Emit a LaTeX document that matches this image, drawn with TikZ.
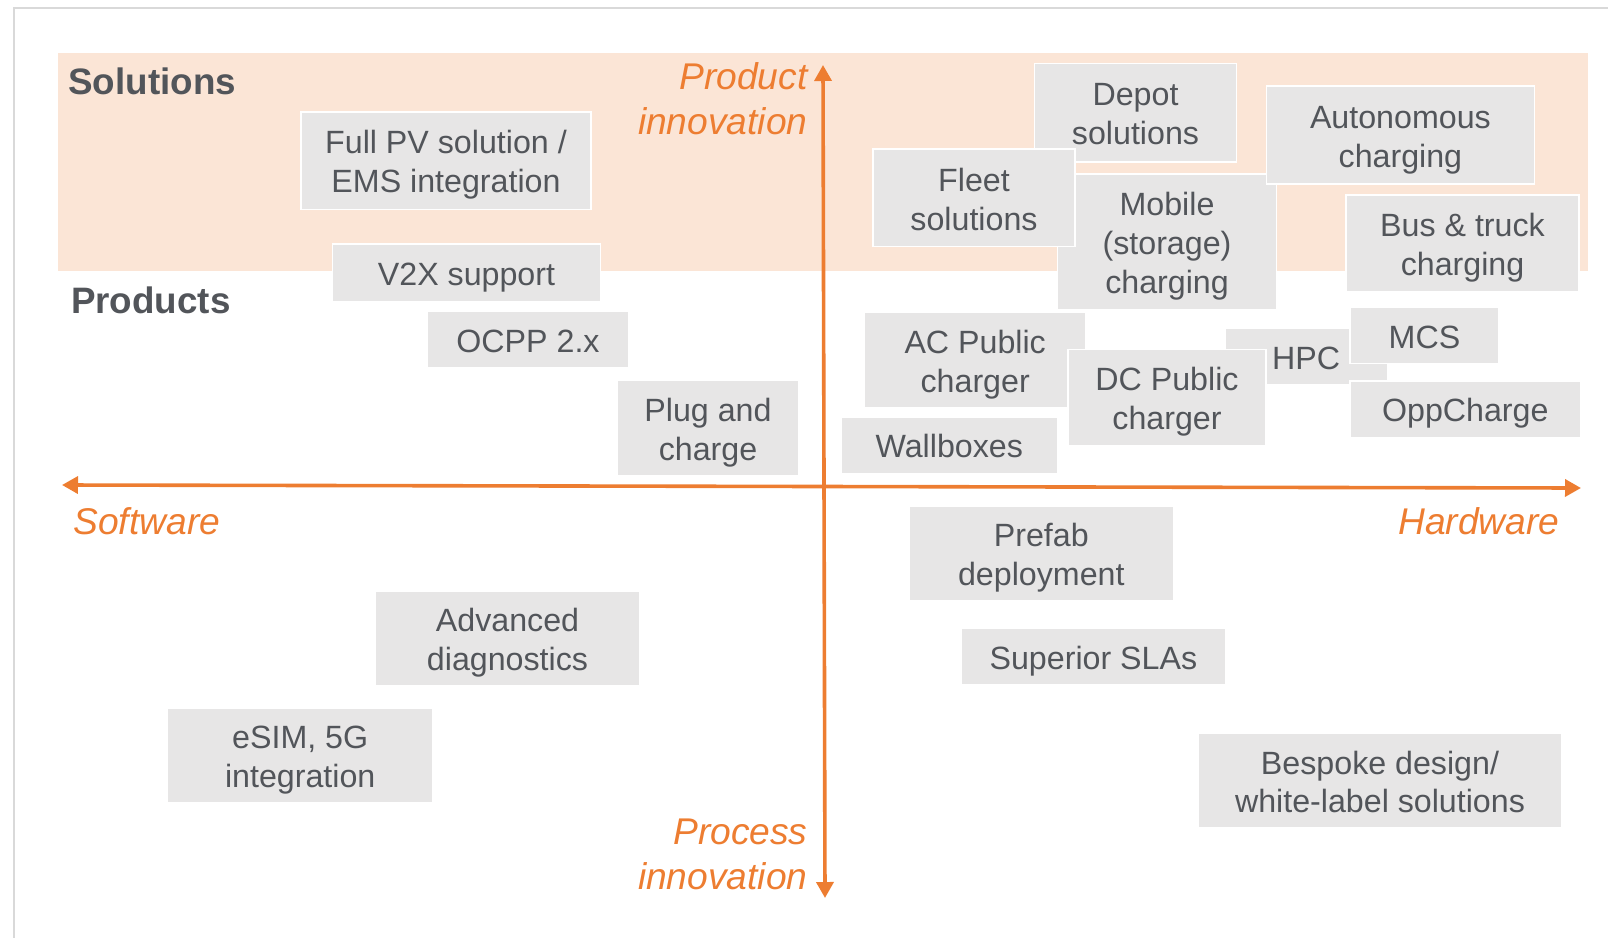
\documentclass[tikz,border=0pt]{standalone}
\usepackage{fontspec}
\setmainfont{Liberation Sans}
\usetikzlibrary{arrows.meta}
\definecolor{evorange}{HTML}{ED7D31}
\definecolor{evpeach}{HTML}{FBE5D6}
\definecolor{evbox}{HTML}{E7E6E6}
\definecolor{evtext}{HTML}{52555A}
\definecolor{evframe}{HTML}{D9D9D9}

\begin{document}
\begin{tikzpicture}[x=0.5pt,y=-0.5pt,>={Triangle[length=8pt,width=8.5pt]},
  tile/.style 2 args={fill=evbox,draw=white,line width=0.8pt,inner sep=0pt,
        align=center,text=evtext,font=\fontsize{16.1}{19.4}\selectfont,
        text height=16.3pt,text depth=3.5pt,
        minimum width=#1*0.5pt,minimum height=#2*0.5pt},
  lines2/.style={text height=35.7pt},
  lines3/.style={text height=55.1pt},
  axislabel/.style={text=evorange,inner sep=0pt,
        font=\fontsize{18.6}{22.5}\selectfont\itshape},
  rowlabel/.style={text=evtext,inner sep=0pt,anchor=west,
        font=\fontsize{18.4}{22}\selectfont\bfseries},
  axisline/.style={evorange,line width=1.8pt}]

  \useasboundingbox (0,0) rectangle (1608,938);

  % ---- frame and solutions band ----
  \draw[evframe,line width=1pt] (14,938) -- (14,7.5) -- (1608,7.5);
  \fill[evpeach] (57.5,52.7) rectangle (1588.4,270.7);

  % ---- row labels ----
  \node[rowlabel] (solutions) at (68,81) {Solutions};
  \node[rowlabel] (products) at (70.6,300) {Products};

  % ---- axes ----
  \coordinate (swend) at (62,485);
  \coordinate (hwend) at (1581,488);
  \coordinate (pitop) at (823,65);
  \coordinate (pibot) at (825,898);
  \draw[axisline,<->] (swend) -- (hwend);
  \draw[axisline,<->] (pibot) -- (pitop);

  % ---- axis labels ----
  \node[axislabel,anchor=north east,align=right] (prodinno) at (808,62)
        {Product\\innovation};
  \node[axislabel,anchor=north east,align=right] (procinno) at (808,818)
        {Process\\innovation};
  \node[axislabel,anchor=west] (software) at (73,521) {Software};
  \node[axislabel,anchor=east] (hardware) at (1560,521) {Hardware};

  % ---- software side, top ----
  \node[tile={290}{97.6},lines2] (fullpv) at (446,160.5)
        {Full PV solution /\\EMS integration};
  \node[tile={268}{57.7}] (v2x) at (466.5,273) {V2X support};
  \node[tile={201.7}{56.7}] (ocpp) at (528,339.3) {OCPP 2.x};
  \node[tile={181.6}{95.3},lines2] (plug) at (708,428.3) {Plug and\\charge};

  % ---- hardware side, top ----
  \node[tile={202}{98.4},lines2] (depot) at (1135.5,112.5) {Depot\\solutions};
  \node[tile={219}{135.3},lines3] (mobile) at (1167,241.7)
        {Mobile\\(storage)\\charging};
  \node[tile={201.7}{97.7},lines2] (fleet) at (974,197.8) {Fleet\\solutions};
  \node[tile={268}{98},lines2] (auton) at (1400.4,135) {Autonomous\\charging};
  \node[tile={233}{96.7},lines2] (bustruck) at (1462.5,243.3)
        {Bus \& truck\\charging};
  \node[tile={162.4}{57}] (hpc) at (1306.2,356.5) {HPC};
  \node[tile={149}{56}] (mcs) at (1424.5,335.3) {MCS};
  \node[tile={230.7}{56.6}] (oppcharge) at (1465.3,409) {OppCharge};
  \node[tile={221.6}{95},lines2] (acpub) at (975.2,359.8) {AC Public\\charger};
  \node[tile={198}{96.4},lines2] (dcpub) at (1167,397.5) {DC Public\\charger};
  \node[tile={216.7}{56.6}] (wallbox) at (949.3,445) {Wallboxes};

  % ---- process innovation ----
  \node[tile={264.6}{95},lines2] (prefab) at (1041.3,553.5) {Prefab\\deployment};
  \node[tile={265.2}{56}] (slas) at (1093.4,656.3) {Superior SLAs};
  \node[tile={363.3}{94.7},lines2] (bespoke) at (1380,780.7)
        {Bespoke design/\\white-label solutions};
  \node[tile={265}{95},lines2] (advdiag) at (507.5,638.5) {Advanced\\diagnostics};
  \node[tile={265.6}{94.7},lines2] (esim) at (300.2,755.4) {eSIM, 5G\\integration};

\end{tikzpicture}
\end{document}
